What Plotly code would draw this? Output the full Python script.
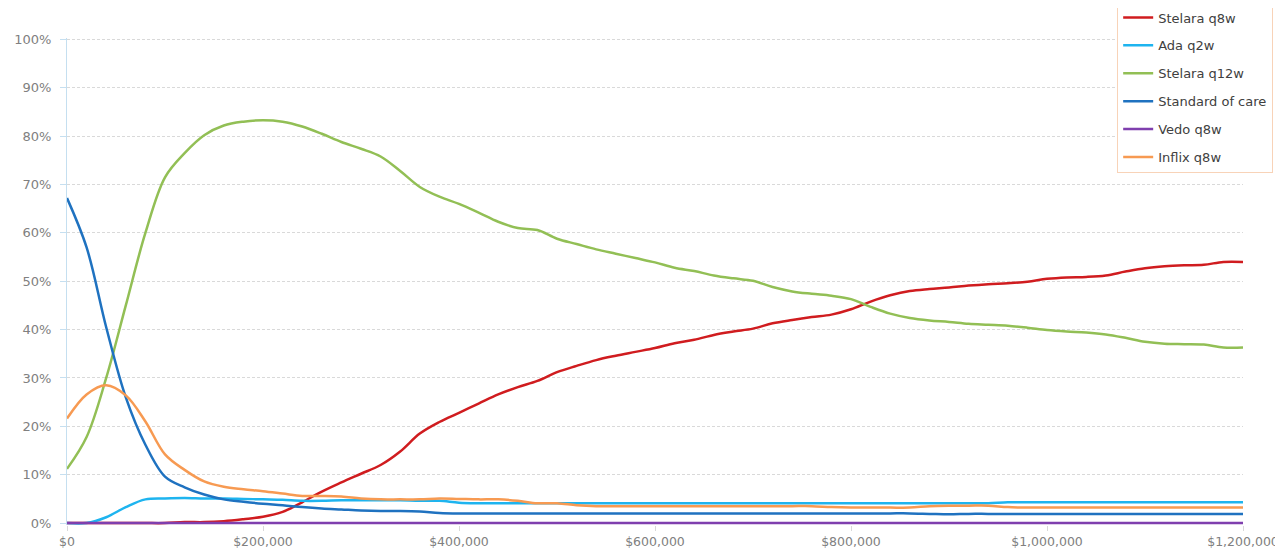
import plotly.graph_objects as go

# willingness-to-pay thresholds ($), every 20,000
wtp = [i * 20000 for i in range(61)]

stelara_q8w = [0, 0, 0, 0, 0, 0, 0.2, 0.2, 0.4, 0.8,
               1.3, 2.3, 4.3, 6.5, 8.4, 10.2, 12.0, 14.8, 18.5, 20.9,
               22.8, 24.7, 26.6, 28.1, 29.4, 31.2, 32.5, 33.7, 34.6, 35.4,
               36.2, 37.2, 37.9, 38.9, 39.6, 40.2, 41.3, 42.0, 42.6, 43.1,
               44.2, 45.8, 47.1, 48.0, 48.4, 48.7, 49.1, 49.4, 49.6, 49.9,
               50.5, 50.8, 50.9, 51.2, 52.0, 52.7, 53.1, 53.3, 53.4, 54.0, 54.0]

ada_q2w = [0, 0, 1.2, 3.3, 4.9, 5.1, 5.2, 5.1, 5.1, 5.0,
           4.9, 4.8, 4.6, 4.6, 4.7, 4.7, 4.7, 4.7, 4.6, 4.6,
           4.2, 4.1, 4.1, 4.1, 4.1, 4.1, 4.1, 4.1, 4.1, 4.1,
           4.1, 4.1, 4.1, 4.1, 4.1, 4.1, 4.1, 4.1, 4.1, 4.1,
           4.1, 4.1, 4.1, 4.1, 4.1, 4.1, 4.1, 4.1, 4.3, 4.3,
           4.3, 4.3, 4.3, 4.3, 4.3, 4.3, 4.3, 4.3, 4.3, 4.3, 4.3]

stelara_q12w = [11.2, 17.8, 30.0, 45.0, 60.0, 71.5, 76.5, 80.2, 82.2, 83.0,
                83.3, 83.0, 82.0, 80.5, 78.8, 77.4, 75.8, 72.8, 69.5, 67.5,
                66.0, 64.2, 62.3, 61.0, 60.6, 58.8, 57.7, 56.6, 55.7, 54.8,
                53.9, 52.8, 52.1, 51.2, 50.6, 50.1, 48.8, 47.9, 47.4, 47.0,
                46.3, 44.7, 43.3, 42.4, 41.9, 41.6, 41.2, 41.0, 40.8, 40.4,
                39.9, 39.6, 39.4, 39.0, 38.3, 37.5, 37.1, 37.0, 36.9, 36.3, 36.3]

standard_of_care = [67.2, 57.0, 40.5, 26.0, 16.2, 9.6, 7.4, 5.9, 4.9, 4.4,
                    4.0, 3.7, 3.3, 3.0, 2.8, 2.6, 2.5, 2.5, 2.4, 2.1,
                    2.0, 2.0, 2.0, 2.0, 2.0, 2.0, 2.0, 2.0, 2.0, 2.0,
                    2.0, 2.0, 2.0, 2.0, 2.0, 2.0, 2.0, 2.0, 2.0, 2.0,
                    2.0, 2.0, 2.0, 2.0, 1.9, 1.8, 1.9, 1.9, 1.9, 1.9,
                    1.9, 1.9, 1.9, 1.9, 1.9, 1.9, 1.9, 1.9, 1.9, 1.9, 1.9]

vedo_q8w = [0] * 61

inflix_q8w = [21.6, 26.6, 28.5, 26.4, 21.0, 14.2, 11.0, 8.6, 7.5, 7.0,
              6.6, 6.1, 5.6, 5.6, 5.5, 5.1, 4.9, 4.9, 4.9, 5.1,
              5.0, 4.9, 4.9, 4.6, 4.1, 4.1, 3.7, 3.5, 3.5, 3.5,
              3.5, 3.5, 3.5, 3.5, 3.5, 3.5, 3.5, 3.5, 3.5, 3.3,
              3.2, 3.2, 3.2, 3.2, 3.5, 3.6, 3.6, 3.6, 3.3, 3.2,
              3.2, 3.2, 3.2, 3.2, 3.2, 3.2, 3.2, 3.2, 3.2, 3.2, 3.2]

series = [
    ("Stelara q8w", stelara_q8w, "#d01c1f"),
    ("Ada q2w", ada_q2w, "#1eb4ef"),
    ("Stelara q12w", stelara_q12w, "#92bf55"),
    ("Standard of care", standard_of_care, "#1f72c0"),
    ("Vedo q8w", vedo_q8w, "#7f3fae"),
    ("Inflix q8w", inflix_q8w, "#f79a52"),
]

y_ticks = list(range(0, 101, 10))
y_tick_labels = [f"{v}%" for v in y_ticks]
x_ticks = list(range(0, 1200001, 200000))
x_tick_labels = [f"${v:,}" for v in x_ticks]

fig = go.Figure()
for i, (name, vals, color) in enumerate(series):
    fig.add_trace(go.Scatter(
        x=wtp, y=vals, name=name, mode="lines",
        line=dict(color=color, width=2.5, shape="spline", smoothing=1),
        legendgroup=f"g{i}",
    ))

font_family = "DejaVu Sans, Open Sans, sans-serif"

# page body has an 8px margin, so the figure is sized/offset to compensate
fig.update_layout(
    width=1275, height=542,
    margin=dict(l=59, r=40, t=29.55, b=25.1, pad=0, autoexpand=False),
    paper_bgcolor="white", plot_bgcolor="white",
    font=dict(family=font_family, size=13, color="#808080"),
    showlegend=True,
    legend=dict(
        x=0.893, y=1.075, xanchor="left", yanchor="top",
        bgcolor="white", bordercolor="#f8d3b8", borderwidth=1,
        font=dict(family=font_family, size=13, color="#404040"),
        tracegroupgap=8, itemwidth=30,
    ),
    xaxis=dict(
        range=[0, 1200000], tickmode="array", tickvals=x_ticks, ticktext=x_tick_labels,
        showgrid=False, zeroline=False, showline=False,
        ticks="outside", ticklen=5, tickcolor="#d9d9d9",
        ticklabelstandoff=0,
        tickfont=dict(size=12.5, color="#808080"),
    ),
    yaxis=dict(
        range=[-0.4, 100.3], tickmode="array", tickvals=y_ticks, ticktext=y_tick_labels,
        showgrid=True, gridcolor="#d9d9d9", griddash="3px,2px", gridwidth=1,
        zeroline=False, showline=True, linecolor="#c5dff0", linewidth=1,
        ticks="outside", ticklen=6, tickcolor="#c5dff0",
        ticklabelstandoff=6,
        tickfont=dict(size=13, color="#808080"),
    ),
)

fig.write_html("out.html")
